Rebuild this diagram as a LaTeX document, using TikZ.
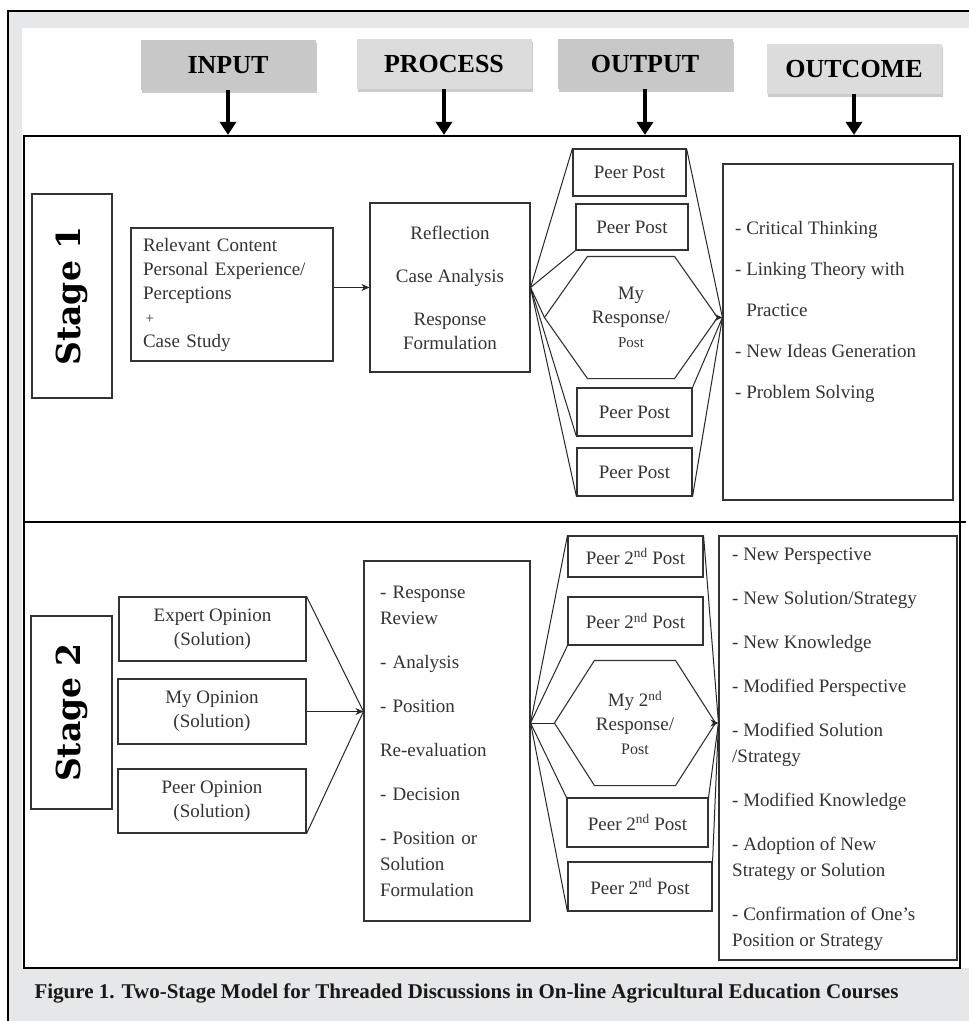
\documentclass[tikz,border=0pt]{standalone}
\usepackage{fontspec}
\setmainfont{Liberation Serif}
\newfontfamily\stagefont{DejaVu Serif}
\usetikzlibrary{
    positioning,
    arrows.meta,
    shadows,
    calc,
}
\definecolor{panelgray}{HTML}{E6E7E8}
\definecolor{headdark}{HTML}{C8C8C8}
\definecolor{headlight}{HTML}{DCDCDC}
\definecolor{inkgray}{HTML}{333333}
\tikzset{
    % Header styles
    head/.style={rectangle, minimum width=175pt, minimum height=50pt,
                 font=\fontsize{26}{30}\selectfont\bfseries,
                 drop shadow={shadow xshift=1pt, shadow yshift=-3pt, fill=gray!80}},
    head dark/.style={head, fill=headdark},
    head light/.style={head, fill=headlight},
    head arrow/.style={-{Triangle[length=13pt, width=16pt]}, line width=4.5pt},
    % Box styles
    box/.style={rectangle, draw=inkgray, line width=1.1pt, inner sep=0pt,
                align=center, text=inkgray, font=\fontsize{19}{24}\selectfont},
    stage/.style={box, rotate=90, text=black,
                  font=\stagefont\bfseries\fontsize{33}{36}\selectfont},
    list text/.style={align=left, inner sep=0pt, text=inkgray,
                      font=\fontsize{19}{24}\selectfont},
    % Connector styles
    fan/.style={line width=1pt, draw=black!85},
    arrow/.style={fan, -{Stealth[length=8pt, width=7pt]}},
}

\begin{document}
\begin{tikzpicture}[
    x=1pt, y=-1pt,
    peer/.style={box, minimum height=47pt},
    hexline/.style={draw=inkgray, line width=1.1pt, line join=miter},
]
    \useasboundingbox (0,0) rectangle (969,1021);

    % Page frame
    \fill[panelgray] (8,11) rectangle (969,1021);
    \draw[line width=2pt] (8,1021) -- (8,11) -- (969,11);
    \fill[white] (22,28) rectangle (969,968);

    % Column headers
    \node[head dark] (input) at (228,65) {INPUT};
    \node[head light] (process) at (444,64) {PROCESS};
    \node[head dark] (output) at (645,64) {OUTPUT};
    \node[head light] (outcome) at (854,69) {OUTCOME};

    % Stage panels
    \node[draw, line width=2.2pt, minimum width=936pt, minimum height=832pt,
          inner sep=0pt] (frame) at (492,552) {};
    \draw[line width=2.2pt] (24,522) -- (966,522);

    \foreach \h in {input, process, output, outcome} {
        \draw[head arrow] (\h.south) -- (\h.south |- frame.north);
    }

    % Stage 1
    \node[stage, minimum width=204pt, minimum height=80pt] (stage1) at (72,296) {Stage 1};
    \node[box, minimum width=202pt, minimum height=133pt, text width=178pt,
          align=left] (in1) at (232,294.5)
        {Relevant Content\\Personal Experience/\\Perceptions\\{\fontsize{15}{20}\selectfont\,+}\\Case Study};
    \node[box, minimum width=160pt, minimum height=169pt] (proc1) at (450,287.5)
        {Reflection\\[19pt]Case Analysis\\[19pt]Response\\Formulation};
    \node[peer, minimum width=113pt] (peer11) at (629.5,172.5) {Peer Post};
    \node[peer, minimum width=112pt, minimum height=46pt] (peer12) at (632,227) {Peer Post};
    \node[box, draw=none, minimum width=172pt, minimum height=121pt] (resp1) at (631,317.5)
        {My\\Response/\\{\fontsize{15}{18}\selectfont Post}};
    \node[peer, minimum width=115pt, minimum height=48pt] (peer13) at (634.5,412) {Peer Post};
    \node[peer, minimum width=115pt, minimum height=48pt] (peer14) at (634.5,472) {Peer Post};
    \node[box, minimum width=230pt, minimum height=336pt] (outc1) at (838,332) {};
    \node[list text, anchor=north west] (outtext1) at (735,221)
        {- Critical Thinking\\[17pt]- Linking Theory with\\[17pt]\phantom{- }Practice\\[17pt]%
         - New Ideas Generation\\[17pt]- Problem Solving};

    % Stage 2
    \node[stage, minimum width=193pt, minimum height=81pt] (stage2) at (71.5,712.5) {Stage 2};
    \node[box, minimum width=187pt, minimum height=64pt] (expert) at (212.5,629) {Expert Opinion\\(Solution)};
    \node[box, minimum width=188pt, minimum height=65pt] (mine) at (212,711.5) {My Opinion\\(Solution)};
    \node[box, minimum width=188pt, minimum height=64pt] (peerop) at (212,801) {Peer Opinion\\(Solution)};
    \node[box, minimum width=166pt, minimum height=360pt, text width=134pt, align=left,
          font=\fontsize{19}{26}\selectfont] (proc2) at (447,741)
        {- Response\\Review\\[18pt]- Analysis\\[18pt]- Position\\[18pt]Re-evaluation\\[18pt]%
         - Decision\\[18pt]- Position or\\Solution\\Formulation};
    \node[peer, minimum width=135pt, minimum height=41pt] (peer21) at (635.5,556.5) {Peer 2\textsuperscript{nd} Post};
    \node[peer, minimum width=135pt, minimum height=48pt] (peer22) at (635.5,621) {Peer 2\textsuperscript{nd} Post};
    \node[box, draw=none, minimum width=160pt, minimum height=124pt] (resp2) at (635,723)
        {My 2\textsuperscript{nd}\\Response/\\{\fontsize{16}{19}\selectfont Post}};
    \node[peer, minimum width=141pt, minimum height=49pt] (peer23) at (637.5,822.5) {Peer 2\textsuperscript{nd} Post};
    \node[peer, minimum width=144pt, minimum height=49pt] (peer24) at (640,886.5) {Peer 2\textsuperscript{nd} Post};
    \node[box, minimum width=238pt, minimum height=424pt] (outc2) at (838,748) {};
    \node[list text, anchor=north west, font=\fontsize{19}{26}\selectfont] (outtext2) at (732,548)
        {- New Perspective\\[18pt]- New Solution/Strategy\\[18pt]- New Knowledge\\[18pt]%
         - Modified Perspective\\[18pt]- Modified Solution\\/Strategy\\[18pt]%
         - Modified Knowledge\\[18pt]- Adoption of New\\Strategy or Solution\\[18pt]%
         - Confirmation of One's\\Position or Strategy};

    % Hexagon outlines
    \foreach \h/\c in {resp1/43, resp2/40} {
        \draw[hexline] (\h.west) -- ([xshift=\c pt]\h.north west) -- ([xshift=-\c pt]\h.north east)
            -- (\h.east) -- ([xshift=-\c pt]\h.south east) -- ([xshift=\c pt]\h.south west) -- cycle;
    }

    % Stage 1 connectors
    \draw[arrow] (in1.east |- proc1.west) -- (proc1.west);
    \foreach \p in {peer11.north west, peer12.south west, resp1.west, peer13.south west, peer14.south west} {
        \draw[fan] (proc1.east) -- (\p);
    }
    \coordinate (hit1) at (outc1.west |- resp1.east);
    \foreach \p in {peer11.north east, peer13.north east, peer14.south east} {
        \draw[fan] (\p) -- (hit1);
    }
    \draw[arrow] (resp1.east) -- (hit1);

    % Stage 2 connectors
    \coordinate (meet2) at (proc2.west |- mine.east);
    \foreach \p in {expert.north east, peerop.south east} {
        \draw[fan] (\p) -- (meet2);
    }
    \draw[arrow] (mine.east) -- (meet2);
    \coordinate (fork2) at (proc2.east |- resp2.west);
    \foreach \p in {peer21.north west, peer22.south west, resp2.west, peer23.north west, peer24.south west} {
        \draw[fan] (fork2) -- (\p);
    }
    \coordinate (hit2) at (outc2.west |- resp2.east);
    \foreach \p in {peer21.north east, peer23.north east, peer24.north east} {
        \draw[fan] (\p) -- (hit2);
    }
    \draw[arrow] (resp2.east) -- (hit2);

    % Caption
    \node[anchor=west, text=black!90, font=\fontsize{21}{25}\selectfont\bfseries] (caption) at (31,993)
        {Figure 1. Two-Stage Model for Threaded Discussions in On-line Agricultural Education Courses};
\end{tikzpicture}
\end{document}
